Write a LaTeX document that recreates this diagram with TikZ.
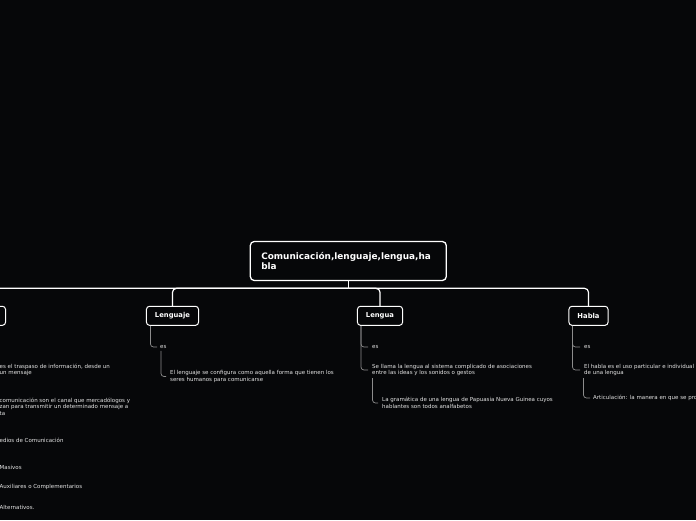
\documentclass[tikz,border=0pt]{standalone}
\usepackage{fontspec}
\setmainfont{DejaVu Sans}
\usetikzlibrary{positioning}
\definecolor{fondo}{RGB}{6,7,9}
\definecolor{grisrama}{RGB}{140,140,140}
\definecolor{letra}{RGB}{228,228,228}
\tikzset{
	raiz/.style={draw=white,line width=1.3pt,rounded corners=4pt,fill=fondo,text=white,
		font=\bfseries\fontsize{8.9}{10.5}\selectfont,text width=174pt,align=left,
		minimum height=39pt,inner xsep=11pt},
	tema/.style={draw=white,line width=1pt,rounded corners=3pt,fill=fondo,text=white,
		font=\bfseries\fontsize{6.8}{8}\selectfont,minimum height=19pt,inner xsep=8.5pt},
	nota/.style={text=letra,font=\fontsize{5.5}{6.6}\selectfont,align=left,inner sep=0pt,anchor=west},
	rama/.style={draw=grisrama,line width=0.7pt,rounded corners=3pt},
	tronco/.style={draw=white,line width=1.2pt,rounded corners=4pt}
}
\begin{document}
\begin{tikzpicture}[x=1pt,y=-1pt]
	\fill[fondo] (0,0) rectangle (696,520);
	\useasboundingbox (0,0) rectangle (696,520);
	\clip (0,0) rectangle (696,520);

	% main topics
	\node[raiz] (raiz) at (348.3,261) {Comunicación,lenguaje,lengua,ha\\bla};
	\coordinate (cruce) at (348.3,288.3);
	\node[tema,minimum width=72pt] (comunicacion) at (-30.5,315.8) {};
	\node[tema] (lenguaje) at (172.5,315.8) {Lenguaje};
	\node[tema] (lengua) at (380,315.8) {Lengua};
	\node[tema] (habla) at (588.5,315.8) {Habla};

	\draw[tronco] (raiz.south) -- (cruce);
	\foreach \t in {comunicacion,lenguaje,lengua,habla}
		\draw[tronco] (cruce) -| (\t.north);

	% Comunicacion (cut at the left edge)
	\node[nota] (traspaso) at (-0.5,370) {es el traspaso de información, desde un\\un mensaje};
	\node[nota] (canal) at (-0.5,406.5) {comunicación son el canal que mercadólogos y\\zan para transmitir un determinado mensaje a\\ta};
	\node[nota] (medios) at (-0.5,440) {edios de Comunicación};
	\node[nota] (masivos) at (-0.5,467) {Masivos};
	\node[nota] (auxiliares) at (-0.5,487) {Auxiliares o Complementarios};
	\node[nota] (alternativos) at (-0.5,507) {Alternativos.};

	% Lenguaje
	\node[nota] (es1) at (160,347) {es};
	\node[nota] (lenguajedef) at (170,376.5) {El lenguaje se configura como aquella forma que tienen los\\seres humanos para comunicarse};
	\draw[rama] ([xshift=4.5pt]lenguaje.south west) |- ([xshift=-3pt]es1.west);
	\draw[rama] ([xshift=1pt,yshift=-2pt]es1.south west) |- ([xshift=-4pt]lenguajedef.west);

	% Lengua
	\node[nota] (es2) at (372,347) {es};
	\node[nota] (lenguadef) at (372,370) {Se llama la lengua al sistema complicado de asociaciones\\entre las ideas y los sonidos o gestos};
	\node[nota] (gramatica) at (382,403) {La gramática de una lengua de Papuasia Nueva Guinea cuyos\\hablantes son todos analfabetos};
	\draw[rama] ([xshift=4pt]lengua.south west) |- ([xshift=-4pt]es2.west);
	\draw[rama] ([xshift=4pt]lengua.south west) |- ([xshift=-4pt]lenguadef.west);
	\draw[rama] ([xshift=0.5pt,yshift=-2pt]lenguadef.south west) |- ([xshift=-4pt]gramatica.west);

	% Habla
	\node[nota] (es3) at (584,347) {es};
	\node[nota] (habladef) at (584,370) {El habla es el uso particular e individual\\de una lengua};
	\node[nota] (articulacion) at (593,398) {Articulación: la manera en que se pro};
	\draw[rama] ([xshift=4pt]habla.south west) |- ([xshift=-4pt]es3.west);
	\draw[rama] ([xshift=4pt]habla.south west) |- ([xshift=-4pt]habladef.west);
	\draw[rama] ([xshift=-0.5pt,yshift=-2pt]habladef.south west) |- ([xshift=-3pt]articulacion.west);
\end{tikzpicture}
\end{document}
